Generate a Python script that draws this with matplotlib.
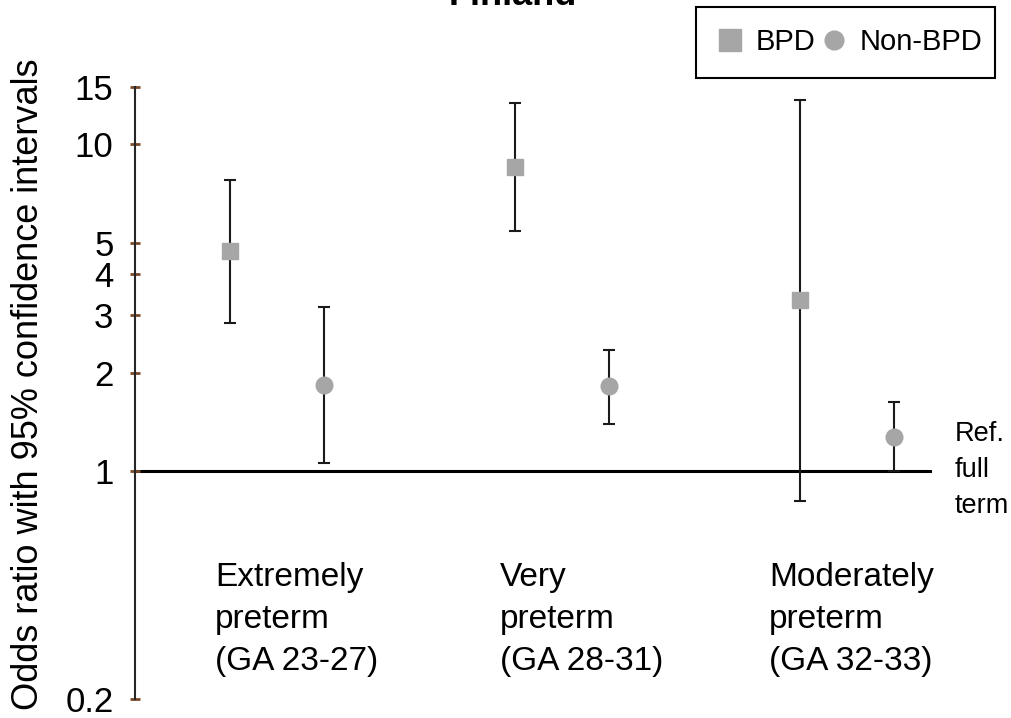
import numpy as np
import matplotlib
matplotlib.use('Agg')
import matplotlib.pyplot as plt
from matplotlib.lines import Line2D
from matplotlib.patches import Rectangle

plt.rcParams['font.family'] = ['Liberation Sans', 'DejaVu Sans']

# odds ratios with 95% CI
groups = ['Extremely\npreterm\n(GA 23-27)', 'Very\npreterm\n(GA 28-31)', 'Moderately\npreterm\n(GA 32-33)']
bpd_or = [4.72, 8.56, 3.34]
bpd_lo = [2.84, 5.44, 0.81]
bpd_hi = [7.81, 13.4, 13.7]
non_or = [1.83, 1.82, 1.27]
non_lo = [1.06, 1.39, 1.0]
non_hi = [3.18, 2.35, 1.62]
yticks = [0.2, 1, 2, 3, 4, 5, 10, 15]

grey = '#A6A6A6'
tick_col = '#7B4A26'

fig = plt.figure(figsize=(10.12, 7.18), dpi=100)
ax = fig.add_axes([135 / 1012, 19 / 718, 797 / 1012, 612 / 718])

x = np.arange(len(groups))
off = 0.165

bpd_err = [np.array(bpd_or) - np.array(bpd_lo), np.array(bpd_hi) - np.array(bpd_or)]
non_err = [np.array(non_or) - np.array(non_lo), np.array(non_hi) - np.array(non_or)]

ax.axhline(1, color='black', lw=2.2, zorder=1)

ax.errorbar(x - off, bpd_or, yerr=bpd_err, fmt='s', ms=12, color=grey, mec=grey,
            ecolor='#1a1a1a', elinewidth=1.5, capsize=4.5, capthick=1.5, zorder=3)
ax.errorbar(x + off, non_or, yerr=non_err, fmt='o', ms=12, color=grey, mec=grey,
            ecolor='#1a1a1a', elinewidth=1.5, capsize=4.5, capthick=1.5, zorder=3)

ax.set_yscale('log')
ax.set_ylim(0.2, 15)
ax.set_xlim(-0.498, 2.298)
ax.set_yticks(yticks)
ax.set_yticklabels([str(t) for t in yticks])
ax.yaxis.set_minor_locator(matplotlib.ticker.NullLocator())
ax.set_xticks([])
ax.tick_params(axis='y', direction='inout', length=7, width=2, color=tick_col,
               labelsize=25, pad=12)

for s in ['top', 'right', 'bottom']:
    ax.spines[s].set_visible(False)
ax.spines['left'].set_color('#262626')
ax.spines['left'].set_linewidth(1.5)

ax.set_ylabel('Odds ratio with 95% confidence intervals', fontsize=26)
ax.yaxis.set_label_coords(-0.112, 0.514)

# group labels under the reference line
for i, g in enumerate(groups):
    xi = i - 0.2175 if i < 2 else i - 0.274
    ax.text(xi, 0.224, g, transform=ax.get_xaxis_transform(), fontsize=24,
            va='top', ha='left', linespacing=1.45)

fig.text(955 / 1012, (718 - 421) / 718, 'Ref.\nfull\nterm', fontsize=19.5,
         va='top', ha='left', linespacing=1.5)

fig.text(513 / 1012, (718 - 5) / 718, 'Finland', fontsize=26, fontweight='bold',
         ha='center', va='baseline')

# legend box
fig.patches.append(Rectangle((696 / 1012, (718 - 78) / 718), 299 / 1012, 71 / 718,
                             transform=fig.transFigure, fill=False, ec='black', lw=1.5))
handles = [Line2D([], [], ls='none', marker='s', ms=16, color=grey),
           Line2D([], [], ls='none', marker='o', ms=13.5, color=grey)]
leg = fig.legend(handles, ['BPD', 'Non-BPD'], loc='center left',
                 bbox_to_anchor=(715 / 1012, (718 - 42) / 718), ncol=2,
                 fontsize=21, frameon=False, handletextpad=0.38,
                 columnspacing=0.15, handlelength=1.0, borderpad=0, borderaxespad=0)

fig.savefig('out.png', dpi=100)
